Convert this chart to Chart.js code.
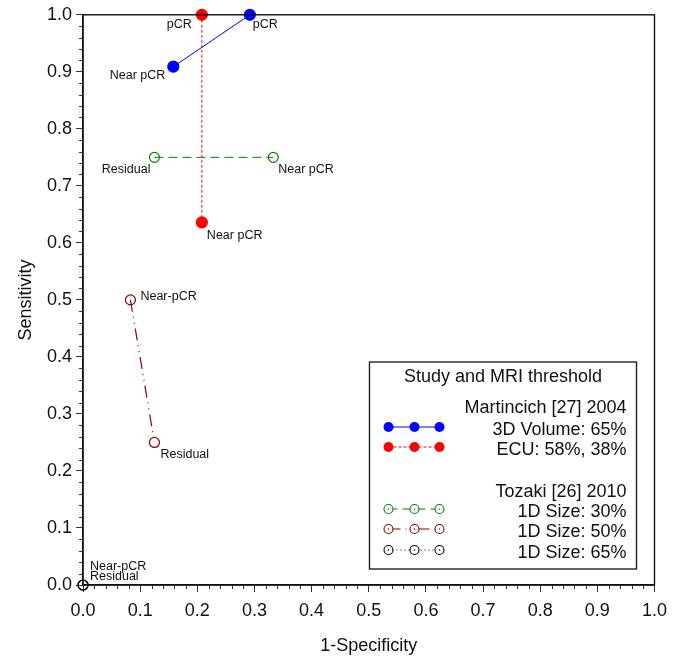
<!DOCTYPE html>
<html>
<head>
<meta charset="utf-8">
<script src="https://cdn.jsdelivr.net/npm/chart.js@4.4.0/dist/chart.umd.min.js"></script>
<style>
  html, body { margin: 0; padding: 0; background: #fff; }
  #wrap { width: 675px; height: 661px; }
</style>
</head>
<body>
<div id="wrap"><canvas id="rocChart" width="675" height="661"></canvas></div>
<script>
// Values (x = 1-specificity, y = sensitivity)
const volumeX = [0.158, 0.292];
const volumeY = [0.909, 1.0];
const volumeLabels = ['Near pCR', 'pCR'];

const ecuX = [0.208, 0.208];
const ecuY = [1.0, 0.636];
const ecuLabels = ['pCR', 'Near pCR'];

const size30X = [0.125, 0.333];
const size30Y = [0.75, 0.75];
const size30Labels = ['Residual', 'Near pCR'];

const size50X = [0.083, 0.125];
const size50Y = [0.5, 0.25];
const size50Labels = ['Near-pCR', 'Residual'];

const size65X = [0, 0];
const size65Y = [0, 0];
const size65Labels = ['Near-pCR', 'Residual'];

const tickLabels = ['0.0', '0.1', '0.2', '0.3', '0.4', '0.5', '0.6', '0.7', '0.8', '0.9', '1.0'];

const FONT = "'Liberation Sans', Arial, sans-serif";

function toPoints(xs, ys) {
    return xs.map((x, i) => ({ x: x, y: ys[i] }));
}

// where each point label sits relative to its point: [dx, dy, align]
const labelPlacement = [
    [[-8, 9, 'right'], [3, 10, 'left']],
    [[-10, 10, 'right'], [5, 13, 'left']],
    [[-4, 12, 'right'], [5, 12, 'left']],
    [[10, -3, 'left'], [6, 12, 'left']],
    [[7, -18, 'left'], [7, -8, 'left']]
];

const datasets = [
    {
        label: '3D Volume: 65%', group: 'Martincich [27] 2004',
        data: toPoints(volumeX, volumeY), names: volumeLabels,
        borderColor: '#0000ff', pointBackgroundColor: '#0000ff', pointBorderColor: '#0000ff',
        borderWidth: 1, borderDash: [], pointRadius: 5.5, filled: true
    },
    {
        label: 'ECU: 58%, 38%', group: 'Martincich [27] 2004',
        data: toPoints(ecuX, ecuY), names: ecuLabels,
        borderColor: '#ff0000', pointBackgroundColor: '#ff0000', pointBorderColor: '#ff0000',
        borderWidth: 1, borderDash: [3, 2], pointRadius: 5.5, filled: true
    },
    {
        label: '1D Size: 30%', group: 'Tozaki [26] 2010',
        data: toPoints(size30X, size30Y), names: size30Labels,
        borderColor: '#008000', pointBackgroundColor: 'rgba(0,0,0,0)', pointBorderColor: '#008000',
        borderWidth: 1, borderDash: [9, 5], pointRadius: 5, filled: false
    },
    {
        label: '1D Size: 50%', group: 'Tozaki [26] 2010',
        data: toPoints(size50X, size50Y), names: size50Labels,
        borderColor: '#8b0000', pointBackgroundColor: 'rgba(0,0,0,0)', pointBorderColor: '#8b0000',
        borderWidth: 1.2, borderDash: [12, 5, 1, 5, 1, 5], pointRadius: 5, filled: false
    },
    {
        label: '1D Size: 65%', group: 'Tozaki [26] 2010',
        data: toPoints(size65X, size65Y), names: size65Labels,
        borderColor: '#000000', pointBackgroundColor: 'rgba(0,0,0,0)', pointBorderColor: '#000000',
        borderWidth: 1, borderDash: [1, 3], pointRadius: 5, filled: false
    }
];
datasets.forEach(d => { d.showLine = true; d.clip = false; d.pointBorderWidth = 1.2; d.pointHoverRadius = d.pointRadius; });

// frame, minor ticks, point labels and the boxed legend
const decorPlugin = {
    id: 'decor',
    afterDatasetsDraw(chart) {
        const ctx = chart.ctx;
        const a = chart.chartArea;
        const xs = chart.scales.x, ys = chart.scales.y;
        ctx.save();

        // box around the plot
        ctx.strokeStyle = '#111';
        ctx.lineWidth = 1.4;
        ctx.strokeRect(a.left, a.top, a.right - a.left, a.bottom - a.top);

        // minor ticks every 0.02
        ctx.strokeStyle = '#333';
        ctx.lineWidth = 1;
        for (let i = 1; i < 50; i++) {
            if (i % 5 === 0) continue;
            const v = i / 50;
            const px = Math.round(xs.getPixelForValue(v)) + 0.5;
            const py = Math.round(ys.getPixelForValue(v)) + 0.5;
            ctx.beginPath();
            ctx.moveTo(px, a.bottom); ctx.lineTo(px, a.bottom + 4);
            ctx.moveTo(a.left, py); ctx.lineTo(a.left - 4, py);
            ctx.stroke();
        }

        // point labels
        ctx.fillStyle = '#111';
        ctx.font = '12.5px ' + FONT;
        ctx.textBaseline = 'middle';
        chart.data.datasets.forEach((ds, di) => {
            ds.data.forEach((p, pi) => {
                const pl = labelPlacement[di][pi];
                ctx.textAlign = pl[2];
                ctx.fillText(ds.names[pi], xs.getPixelForValue(p.x) + pl[0], ys.getPixelForValue(p.y) + pl[1]);
            });
        });

        // legend box
        const bx = a.right - 285, by = a.bottom - 223, bw = 267, bh = 207;
        ctx.fillStyle = '#fff';
        ctx.fillRect(bx, by, bw, bh);
        ctx.strokeStyle = '#222';
        ctx.lineWidth = 1.4;
        ctx.strokeRect(bx, by, bw, bh);

        ctx.fillStyle = '#111';
        ctx.font = '18px ' + FONT;
        ctx.textAlign = 'center';
        ctx.fillText('Study and MRI threshold', bx + bw / 2, by + 15);

        const textRight = bx + 257;
        const rows = [
            { text: datasets[0].group, y: 46 },
            { ds: 0, y: 68 },
            { ds: 1, y: 88 },
            { text: datasets[2].group, y: 130 },
            { ds: 2, y: 150 },
            { ds: 3, y: 170 },
            { ds: 4, y: 191 }
        ];
        rows.forEach(r => {
            ctx.textAlign = 'right';
            ctx.fillStyle = '#111';
            ctx.font = '18px ' + FONT;
            if (r.text) {
                ctx.fillText(r.text, textRight, by + r.y);
                return;
            }
            const ds = chart.data.datasets[r.ds];
            ctx.fillText(ds.label, textRight, by + r.y);
            const ly = by + r.y - 3;
            ctx.strokeStyle = ds.borderColor;
            ctx.lineWidth = ds.borderWidth;
            ctx.setLineDash(ds.borderDash);
            ctx.beginPath();
            ctx.moveTo(bx + 19, ly); ctx.lineTo(bx + 70, ly);
            ctx.stroke();
            ctx.setLineDash([]);
            [bx + 19, bx + 45, bx + 70].forEach(mx => {
                ctx.beginPath();
                ctx.arc(mx, ly, ds.filled ? 5 : 4.5, 0, Math.PI * 2);
                if (ds.filled) {
                    ctx.fillStyle = ds.pointBackgroundColor;
                    ctx.fill();
                } else {
                    ctx.fillStyle = '#fff';
                    ctx.fill();
                    ctx.lineWidth = 1.1;
                    ctx.strokeStyle = ds.pointBorderColor;
                    ctx.stroke();
                    ctx.beginPath();
                    ctx.arc(mx, ly, 0.8, 0, Math.PI * 2);
                    ctx.fillStyle = ds.pointBorderColor;
                    ctx.fill();
                }
            });
        });
        ctx.restore();
    }
};

const axisCommon = {
    type: 'linear',
    min: 0,
    max: 1,
    grid: { drawOnChartArea: false, drawTicks: true, tickLength: 7, tickColor: '#333', tickWidth: 1 },
    border: { display: true, color: '#111', width: 1.4 }
};

new Chart(document.getElementById('rocChart').getContext('2d'), {
    type: 'scatter',
    data: { datasets: datasets },
    options: {
        responsive: false,
        animation: false,
        events: [],
        layout: { padding: { top: 13, right: 20, left: 0, bottom: 0 } },
        plugins: { legend: { display: false }, tooltip: { enabled: false } },
        scales: {
            x: Object.assign({}, axisCommon, {
                ticks: {
                    stepSize: 0.1, padding: 8, color: '#111', maxRotation: 0,
                    font: { family: FONT, size: 18 },
                    callback: v => tickLabels[Math.round(v * 10)]
                },
                title: { display: true, text: '1-Specificity', color: '#111', font: { family: FONT, size: 18 }, padding: { top: 4, bottom: 4 } },
                afterFit: s => { s.height = 76; }
            }),
            y: Object.assign({}, axisCommon, {
                ticks: {
                    stepSize: 0.1, padding: 4, color: '#111',
                    font: { family: FONT, size: 18 },
                    callback: v => tickLabels[Math.round(v * 10)]
                },
                title: { display: true, text: 'Sensitivity', color: '#111', font: { family: FONT, size: 18 }, padding: { top: 15, bottom: 15 } },
                afterFit: s => { s.width = 83; }
            })
        }
    },
    plugins: [decorPlugin]
});
</script>
</body>
</html>
